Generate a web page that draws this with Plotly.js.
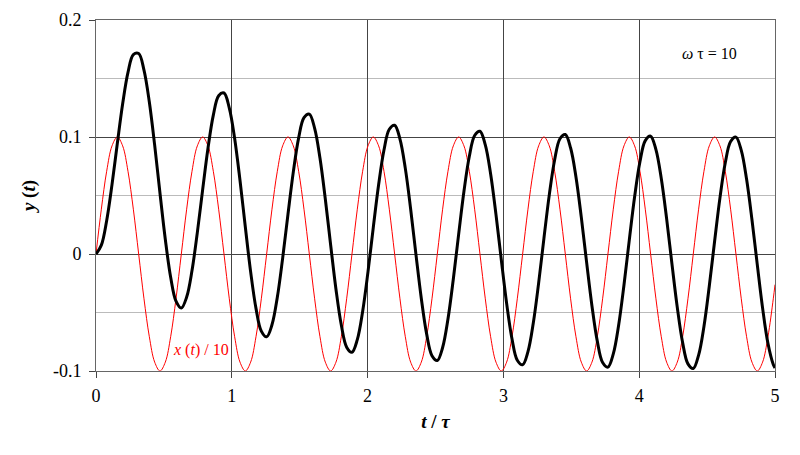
<!DOCTYPE html>
<html>
<head>
<meta charset="utf-8">
<script src="https://cdn.plot.ly/plotly-3.0.1.min.js"></script>
<style>html,body{margin:0;padding:0;background:#fff;}#chart{width:800px;height:455px;}</style>
</head>
<body>
<div id="chart"></div>
<script>
// t / tau sample positions
const tValues = [0.0000, 0.0393, 0.0785, 0.1178, 0.1571, 0.1963, 0.2356, 0.2749, 0.3142, 0.3534,
  0.3927, 0.4320, 0.4712, 0.5105, 0.5498, 0.5890, 0.6283, 0.6676, 0.7069, 0.7461,
  0.7854, 0.8247, 0.8639, 0.9032, 0.9425, 0.9817, 1.0210, 1.0603, 1.0996, 1.1388,
  1.1781, 1.2174, 1.2566, 1.2959, 1.3352, 1.3744, 1.4137, 1.4530, 1.4923, 1.5315,
  1.5708, 1.6101, 1.6493, 1.6886, 1.7279, 1.7671, 1.8064, 1.8457, 1.8850, 1.9242,
  1.9635, 2.0028, 2.0420, 2.0813, 2.1206, 2.1598, 2.1991, 2.2384, 2.2777, 2.3169,
  2.3562, 2.3955, 2.4347, 2.4740, 2.5133, 2.5525, 2.5918, 2.6311, 2.6704, 2.7096,
  2.7489, 2.7882, 2.8274, 2.8667, 2.9060, 2.9452, 2.9845, 3.0238, 3.0631, 3.1023,
  3.1416, 3.1809, 3.2201, 3.2594, 3.2987, 3.3379, 3.3772, 3.4165, 3.4558, 3.4950,
  3.5343, 3.5736, 3.6128, 3.6521, 3.6914, 3.7306, 3.7699, 3.8092, 3.8485, 3.8877,
  3.9270, 3.9663, 4.0055, 4.0448, 4.0841, 4.1233, 4.1626, 4.2019, 4.2412, 4.2804,
  4.3197, 4.3590, 4.3982, 4.4375, 4.4768, 4.5160, 4.5553, 4.5946, 4.6339, 4.6731,
  4.7124, 4.7517, 4.7909, 4.8302, 4.8695, 4.9087, 4.9480, 4.9873, 5.0000];

// x(t)/10 (red)
const xInput = [
  0, 0.0383, 0.0707, 0.0924, 0.1, 0.0924, 0.0707, 0.0383, 0, -0.0383, -0.0707, -0.0924, -0.1, -0.0924, -0.0707, -0.0383,
  0, 0.0383, 0.0707, 0.0924, 0.1, 0.0924, 0.0707, 0.0383, 0, -0.0383, -0.0707, -0.0924, -0.1, -0.0924, -0.0707, -0.0383,
  0, 0.0383, 0.0707, 0.0924, 0.1, 0.0924, 0.0707, 0.0383, 0, -0.0383, -0.0707, -0.0924, -0.1, -0.0924, -0.0707, -0.0383,
  0, 0.0383, 0.0707, 0.0924, 0.1, 0.0924, 0.0707, 0.0383, 0, -0.0383, -0.0707, -0.0924, -0.1, -0.0924, -0.0707, -0.0383,
  0, 0.0383, 0.0707, 0.0924, 0.1, 0.0924, 0.0707, 0.0383, 0, -0.0383, -0.0707, -0.0924, -0.1, -0.0924, -0.0707, -0.0383,
  0, 0.0383, 0.0707, 0.0924, 0.1, 0.0924, 0.0707, 0.0383, 0, -0.0383, -0.0707, -0.0924, -0.1, -0.0924, -0.0707, -0.0383,
  0, 0.0383, 0.0707, 0.0924, 0.1, 0.0924, 0.0707, 0.0383, 0, -0.0383, -0.0707, -0.0924, -0.1, -0.0924, -0.0707, -0.0383,
  0, 0.0383, 0.0707, 0.0924, 0.1, 0.0924, 0.0707, 0.0383, 0, -0.0383, -0.0707, -0.0924, -0.1, -0.0924, -0.0707, -0.0383,
  -0.0262];

// y(t) (black)
const yResponse = [
  0.0000, 0.0076, 0.0285, 0.0593, 0.0945, 0.1284, 0.1552, 0.1704, 0.1713, 0.1571, 0.1299, 0.0930, 0.0519, 0.0124, -0.0199, -0.0403,
  -0.0462, -0.0368, -0.0142, 0.0183, 0.0550, 0.0904, 0.1187, 0.1353, 0.1376, 0.1247, 0.0987, 0.0630, 0.0231, -0.0153, -0.0465, -0.0659,
  -0.0708, -0.0605, -0.0370, -0.0037, 0.0340, 0.0702, 0.0993, 0.1166, 0.1196, 0.1074, 0.0820, 0.0470, 0.0077, -0.0301, -0.0607, -0.0796,
  -0.0840, -0.0732, -0.0491, -0.0153, 0.0228, 0.0594, 0.0889, 0.1066, 0.1100, 0.0982, 0.0732, 0.0385, -0.0005, -0.0380, -0.0683, -0.0869,
  -0.0910, -0.0799, -0.0556, -0.0216, 0.0168, 0.0536, 0.0833, 0.1013, 0.1049, 0.0932, 0.0684, 0.0339, -0.0049, -0.0422, -0.0724, -0.0908,
  -0.0947, -0.0835, -0.0590, -0.0249, 0.0136, 0.0505, 0.0804, 0.0985, 0.1021, 0.0906, 0.0659, 0.0315, -0.0072, -0.0444, -0.0745, -0.0928,
  -0.0967, -0.0854, -0.0609, -0.0267, 0.0119, 0.0489, 0.0788, 0.0969, 0.1007, 0.0892, 0.0645, 0.0302, -0.0085, -0.0456, -0.0757, -0.0939,
  -0.0978, -0.0864, -0.0619, -0.0276, 0.0109, 0.0480, 0.0780, 0.0961, 0.0999, 0.0885, 0.0638, 0.0295, -0.0091, -0.0463, -0.0763, -0.0945,
  -0.0975];

const xTicks = [0, 1, 2, 3, 4, 5];
const xTickLabels = ['0', '1', '2', '3', '4', '5'];
const yTicks = [-0.1, 0, 0.1, 0.2];
const yTickLabels = ['-0.1', '0', '0.1', '0.2'];

const serif = 'Liberation Serif';

const traces = [
  {x: tValues, y: xInput, type: 'scatter', mode: 'lines',
   line: {color: '#ff0000', width: 1, shape: 'spline', smoothing: 1}, hoverinfo: 'skip'},
  {x: tValues, y: yResponse, type: 'scatter', mode: 'lines',
   line: {color: '#000000', width: 3, shape: 'spline', smoothing: 1}, hoverinfo: 'skip'}
];

const layout = {
  width: 800, height: 455,
  margin: {l: 96, r: 25, t: 20, b: 84},
  paper_bgcolor: '#fff', plot_bgcolor: '#fff',
  showlegend: false,
  font: {family: serif, color: '#000', size: 16},
  xaxis: {
    range: [0, 5], tickvals: xTicks, ticktext: xTickLabels,
    showgrid: true, gridcolor: '#444', gridwidth: 1,
    zeroline: false, showline: true, linecolor: '#666', linewidth: 1, mirror: true,
    ticks: 'outside', ticklen: 6, tickcolor: '#444', ticklabelstandoff: 2,
    tickfont: {family: serif, size: 18},
    title: {text: '<b><i>t</i> / <i>τ</i></b>', font: {family: serif, size: 19}, standoff: 10}
  },
  yaxis: {
    range: [-0.1, 0.2], tickvals: yTicks, ticktext: yTickLabels,
    showgrid: true, gridcolor: '#444', gridwidth: 1,
    minor: {dtick: 0.05, showgrid: true, gridcolor: '#bbb', gridwidth: 1, ticks: ''},
    zeroline: false, showline: true, linecolor: '#666', linewidth: 1, mirror: true,
    ticks: 'outside', ticklen: 6, tickcolor: '#444', ticklabelstandoff: 4,
    tickfont: {family: serif, size: 18},
    title: {text: '<b><i>y</i> (<i>t</i>)</b>', font: {family: serif, size: 19}, standoff: 12}
  },
  annotations: [
    {x: 4.514, y: 0.171, xref: 'x', yref: 'y', showarrow: false,
     text: '<i>ω</i> τ = 10', font: {family: serif, size: 16, color: '#000'}},
    {x: 0.775, y: -0.082, xref: 'x', yref: 'y', showarrow: false,
     text: '<i>x</i> (<i>t</i>) / 10', font: {family: serif, size: 16, color: '#ff0000'}}
  ]
};

Plotly.newPlot('chart', traces, layout, {displayModeBar: false, staticPlot: true});
</script>
</body>
</html>
